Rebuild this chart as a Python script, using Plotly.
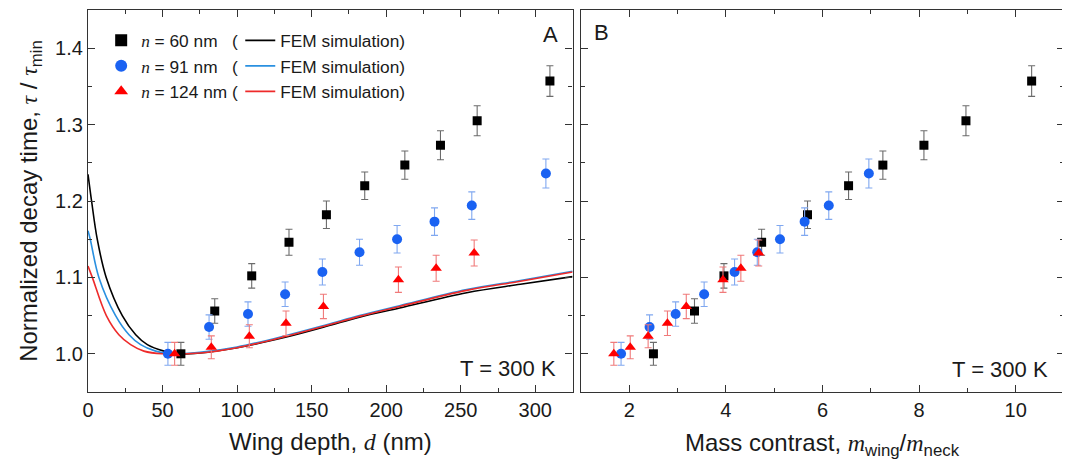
import plotly.graph_objects as go

# ---------------- data ----------------
# Panel A: wing depth d (nm) vs normalized decay time
d60 = [62.3, 85.0, 109.8, 134.8, 159.9, 185.6, 212.5, 236.4, 261.0, 309.8]
tau60 = [1.000, 1.056, 1.102, 1.146, 1.182, 1.220, 1.247, 1.273, 1.305, 1.357]
err60 = [0.015, 0.016, 0.016, 0.017, 0.018, 0.018, 0.0185, 0.019, 0.0196, 0.020]

d91 = [53.6, 81.2, 107.3, 132.2, 157.2, 182.1, 207.3, 232.4, 257.4, 307.1]
tau91 = [1.000, 1.035, 1.052, 1.078, 1.107, 1.133, 1.150, 1.173, 1.194, 1.236]
err91 = [0.015, 0.016, 0.016, 0.016, 0.017, 0.017, 0.018, 0.018, 0.018, 0.019]

d124 = [58.1, 82.7, 108.2, 132.8, 157.9, 208.2, 233.5, 259.0]
tau124 = [1.000, 1.0085, 1.023, 1.040, 1.062, 1.097, 1.112, 1.132]
err124 = [0.015, 0.015, 0.015, 0.016, 0.016, 0.0166, 0.017, 0.017]

# Panel B: mass contrast m_wing/m_neck
m60 = [2.50, 3.35, 3.96, 4.74, 5.69, 6.54, 7.25, 8.10, 8.97, 10.33]
m91 = [1.83, 2.42, 2.96, 3.55, 4.18, 4.65, 5.12, 5.63, 6.13, 6.96]
m124 = [1.68, 2.02, 2.39, 2.79, 3.18, 3.94, 4.31, 4.68]

# FEM simulation curves
fem60_d = [0, 2.4, 6.2, 12.2, 23.0, 32.0, 39.8, 51.0, 60, 75, 100, 133, 160, 182, 209, 254, 290, 325]
fem60_t = [1.235, 1.200, 1.150, 1.100, 1.050, 1.025, 1.012, 1.0035, 1.000, 1.001, 1.008, 1.022,
           1.036, 1.048, 1.060, 1.080, 1.091, 1.101]
fem91_d = [0, 1.5, 7.3, 18.5, 27.5, 35.3, 45.4, 55, 75, 100, 133, 160, 182, 209, 254, 290, 325]
fem91_t = [1.161, 1.150, 1.100, 1.050, 1.025, 1.012, 1.0035, 1.000, 1.002, 1.009, 1.024,
           1.038, 1.050, 1.063, 1.084, 1.096, 1.108]
fem124_d = [0, 2.9, 12.3, 20.7, 28.6, 37.5, 50, 75, 100, 133, 160, 182, 209, 254, 290, 325]
fem124_t = [1.115, 1.100, 1.050, 1.025, 1.012, 1.0035, 1.000, 1.001, 1.008, 1.023,
            1.037, 1.049, 1.062, 1.083, 1.095, 1.107]

# ---------------- styles ----------------
BLACK, BLUE, RED = "#000000", "#1a62f2", "#ff0000"
BLACK_ERR, BLUE_ERR, RED_ERR = "#6b6b6b", "#80a8f0", "#f07a7a"
LINE_BLACK, LINE_BLUE, LINE_RED = "#000000", "#2a90e0", "#ee2a2a"
SANS = "Liberation Sans, Arial, sans-serif"
SERIF = "Liberation Serif"

def it(s):
    return f'<span style="font-family:{SERIF}"><i>{s}</i></span>'

NB = "\u00a0"
fig = go.Figure()

series = [
    (d60, m60, tau60, err60, BLACK, BLACK_ERR, "square", 9, f"{it('n')} = 60 nm{NB*3}("),
    (d91, m91, tau91, err91, BLUE, BLUE_ERR, "circle", 10, f"{it('n')} = 91 nm{NB*3}("),
    (d124, m124, tau124, err124, RED, RED_ERR, "triangle-up", 10, f"{it('n')} = 124 nm{NB}("),
]
fems = [(fem60_d, fem60_t, LINE_BLACK), (fem91_d, fem91_t, LINE_BLUE), (fem124_d, fem124_t, LINE_RED)]

# FEM lines (panel A) -> legend2
for (fd, ft, col) in fems:
    fig.add_trace(go.Scatter(x=fd, y=ft, mode="lines", line=dict(color=col, width=1.6, shape="spline", smoothing=1.0),
                             name="FEM simulation)", legend="legend2", xaxis="x", yaxis="y"))

for (dx, mx, t, e, col, ecol, sym, sz, name) in series:
    fig.add_trace(go.Scatter(x=dx, y=t, mode="markers", name=name, legend="legend",
                             marker=dict(color=col, symbol=sym, size=sz),
                             error_y=dict(type="data", array=e, color=ecol, thickness=1.1, width=3.5),
                             xaxis="x", yaxis="y"))
    fig.add_trace(go.Scatter(x=mx, y=t, mode="markers", showlegend=False,
                             marker=dict(color=col, symbol=sym, size=sz),
                             error_y=dict(type="data", array=e, color=ecol, thickness=1.1, width=3.5),
                             xaxis="x2", yaxis="y2"))

axis_common = dict(showline=True, linecolor="#333333", linewidth=1.3, mirror="allticks",
                   ticks="inside", ticklen=7, tickwidth=1.2, tickcolor="#333333",
                   showgrid=False, zeroline=False, automargin=False,
                   tickfont=dict(family=SANS, size=20, color="#1a1a1a"))

# page has an 8px body margin, so the figure is 8px smaller than the window on each axis
fig.update_layout(
    width=1062, height=452,
    margin=dict(l=80, r=6, t=2, b=68, autoexpand=False),
    paper_bgcolor="white", plot_bgcolor="white",
    font=dict(family=SANS, color="#1a1a1a"),
    xaxis=dict(domain=[0, 0.4965], range=[0, 325], dtick=50, tick0=0,
               minor=dict(dtick=25, ticklen=4, ticks="inside", tickcolor="#333333"),
               anchor="y", **axis_common),
    yaxis=dict(domain=[0, 1], range=[0.95, 1.45], dtick=0.1, tick0=1.0, tickformat=".1f",
               minor=dict(dtick=0.05, ticklen=4, ticks="inside", tickcolor="#333333"),
               title=dict(text=f"Normalized decay time, {it('τ')} / {it('τ')}<sub>min</sub>",
                          font=dict(size=24), standoff=10),
               anchor="x", **axis_common),
    xaxis2=dict(domain=[0.5051, 1], range=[1, 11], dtick=2, tick0=0,
                minor=dict(dtick=1, ticklen=4, ticks="inside", tickcolor="#333333"),
                anchor="y2", **axis_common),
    yaxis2=dict(domain=[0, 1], range=[0.95, 1.45], dtick=0.1, tick0=1.0, showticklabels=False,
                minor=dict(dtick=0.05, ticklen=4, ticks="inside", tickcolor="#333333"),
                anchor="x2", **axis_common),
    legend=dict(x=0.0135, y=0.967, xanchor="left", yanchor="top",
                font=dict(family=SANS, size=17.3, color="#1a1a1a"), bgcolor="rgba(0,0,0,0)",
                tracegroupgap=0, itemsizing="constant"),
    legend2=dict(x=0.156, y=0.967, xanchor="left", yanchor="top",
                 font=dict(family=SANS, size=17.3, color="#1a1a1a"), bgcolor="rgba(0,0,0,0)",
                 tracegroupgap=0, itemwidth=30),
    showlegend=True,
)

title_font = dict(family=SANS, size=24, color="#1a1a1a")
fig.add_annotation(text=f"Wing depth, {it('d')} (nm)", xref="x domain", yref="y domain", x=0.5, y=0,
                   yshift=-49, showarrow=False, font=title_font, xanchor="center", yanchor="middle")
fig.add_annotation(text=f"Mass contrast, {it('m')}<sub>wing</sub>/{it('m')}<sub>neck</sub>",
                   xref="x2 domain", yref="y2 domain", x=0.5, y=0, yshift=-52, showarrow=False,
                   font=title_font, xanchor="center", yanchor="middle")

ann_font = dict(family=SANS, size=22, color="#1a1a1a")
fig.add_annotation(text="A", xref="x domain", yref="y domain", x=0.955, y=0.935, showarrow=False,
                   font=ann_font, xanchor="center", yanchor="middle")
fig.add_annotation(text="B", xref="x2 domain", yref="y2 domain", x=0.043, y=0.94, showarrow=False,
                   font=ann_font, xanchor="center", yanchor="middle")
fig.add_annotation(text="T = 300 K", xref="x domain", yref="y domain", x=0.97, y=0.062, showarrow=False,
                   font=ann_font, xanchor="right", yanchor="middle")
fig.add_annotation(text="T = 300 K", xref="x2 domain", yref="y2 domain", x=0.97, y=0.06, showarrow=False,
                   font=ann_font, xanchor="right", yanchor="middle")

fig.write_html("out.html")
